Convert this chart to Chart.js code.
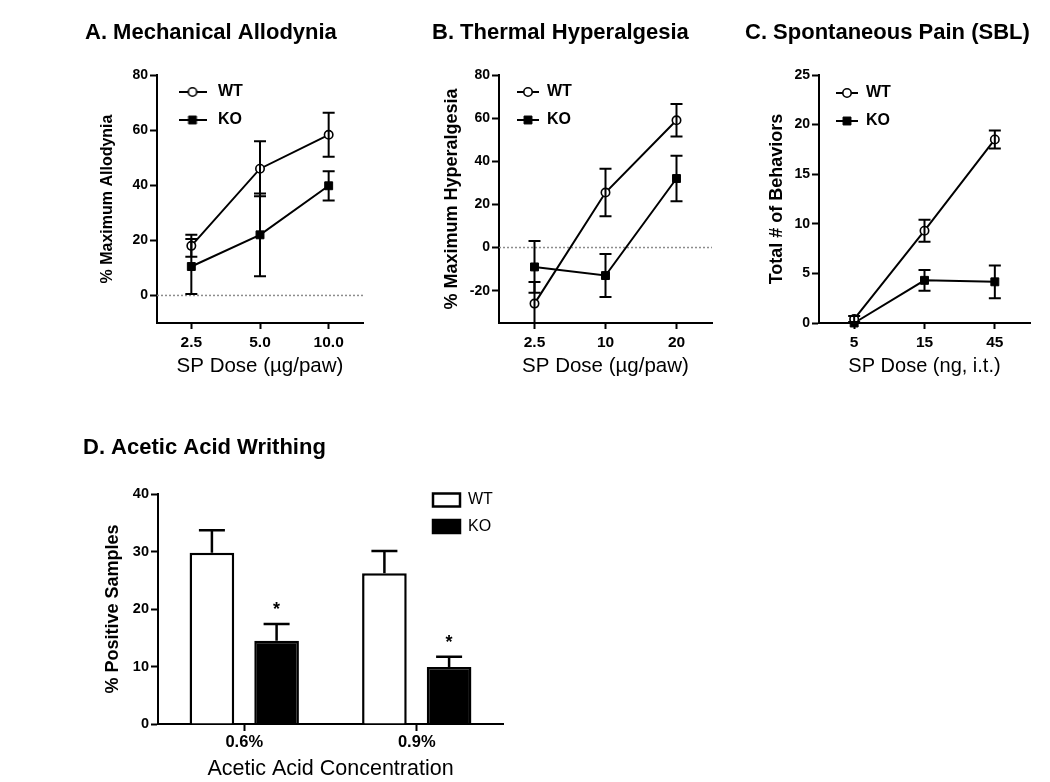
<!DOCTYPE html>
<html lang="en">
<head>
<meta charset="utf-8">
<title>SP dose response - WT vs KO</title>
<script src="https://cdn.jsdelivr.net/npm/chart.js@4.4.1/dist/chart.umd.min.js"></script>
<style>
  html, body { margin: 0; padding: 0; background: #fff; overflow: hidden; }
  body { position: relative; width: 1050px; height: 782px; }
  canvas { position: absolute; }
</style>
</head>
<body>
<canvas id="panelA" width="310" height="400" style="left:70px; top:0px;"></canvas>
<canvas id="panelB" width="300" height="400" style="left:420px; top:0px;"></canvas>
<canvas id="panelC" width="315" height="400" style="left:735px; top:0px;"></canvas>
<canvas id="panelD" width="470" height="372" style="left:70px; top:410px;"></canvas>
<script>
// A. Mechanical Allodynia
const doseA = ['2.5', '5.0', '10.0'];
const wtA = [18, 46, 58.3];
const wtErrA = [4, 10, 8];
const koA = [10.5, 22, 39.8];
const koErrA = [10, 15, 5.3];
const yTicksA = [0, 20, 40, 60, 80];

// B. Thermal Hyperalgesia
const doseB = ['2.5', '10', '20'];
const wtB = [-26, 25.5, 59];
const wtErrB = [10, 11, 7.5];
const koB = [-9, -13, 32];
const koErrB = [12, 10, 10.5];
const yTicksB = [-20, 0, 20, 40, 60, 80];

// C. Spontaneous Pain (SBL)
const doseC = ['5', '15', '45'];
const wtC = [0.4, 9.3, 18.5];
const wtErrC = [0.3, 1.1, 0.9];
const koC = [0, 4.3, 4.15];
const koErrC = [0, 1.05, 1.65];
const yTicksC = [0, 5, 10, 15, 20, 25];

// D. Acetic Acid Writhing
const concD = ['0.6%', '0.9%'];
const wtD = [29.8, 26.2];
const wtErrD = [3.9, 3.9];
const koD = [14.5, 9.9];
const koErrD = [2.9, 1.8];
const koSigD = ['*', '*'];
const yTicksD = [0, 10, 20, 30, 40];

Chart.defaults.font.family = "'Liberation Sans', Arial, Helvetica, sans-serif";
Chart.defaults.color = '#000';

// open circle for WT, filled square for KO
const wtStyle = {
  borderColor: '#000', borderWidth: 2, tension: 0, clip: false,
  pointStyle: 'circle', pointRadius: 4.2, pointBackgroundColor: '#fff',
  pointBorderColor: '#000', pointBorderWidth: 1.6
};
const koStyle = {
  borderColor: '#000', borderWidth: 2, tension: 0, clip: false,
  pointStyle: 'rect', pointRadius: 5.6, pointBackgroundColor: '#000',
  pointBorderColor: '#000', pointBorderWidth: 1
};

// dotted line at y = 0
const zeroLine = {
  id: 'zeroLine',
  beforeDatasetsDraw(chart, args, opts) {
    if (!opts.show) return;
    const {ctx, chartArea: a, scales: {y}} = chart;
    const py = y.getPixelForValue(0);
    ctx.save();
    ctx.strokeStyle = '#8c8c8c';
    ctx.lineWidth = 1.5;
    ctx.setLineDash([2, 2]);
    ctx.beginPath();
    ctx.moveTo(a.left, py);
    ctx.lineTo(a.right, py);
    ctx.stroke();
    ctx.restore();
  }
};

// SEM bars (and significance marks) from each dataset's errors array
const errorBars = {
  id: 'errorBars',
  afterDatasetsDraw(chart, args, opts) {
    const {ctx, chartArea: a, scales: {y}} = chart;
    const half = opts.cap / 2;
    chart.data.datasets.forEach((ds, di) => {
      if (!ds.errors) return;
      const meta = chart.getDatasetMeta(di);
      meta.data.forEach((el, i) => {
        const v = ds.data[i], e = ds.errors[i];
        const x = el.x;
        const top = y.getPixelForValue(v + e);
        if (e) {
          const bot = opts.upOnly ? y.getPixelForValue(v) : y.getPixelForValue(v - e);
          ctx.save();
          ctx.beginPath();
          ctx.rect(a.left, a.top - 2, a.right - a.left, a.bottom - a.top + 2);
          ctx.clip();
          ctx.strokeStyle = '#000';
          ctx.lineWidth = opts.width;
          ctx.beginPath();
          ctx.moveTo(x, top); ctx.lineTo(x, bot);
          ctx.moveTo(x - half, top); ctx.lineTo(x + half, top);
          if (!opts.upOnly) { ctx.moveTo(x - half, bot); ctx.lineTo(x + half, bot); }
          ctx.stroke();
          ctx.restore();
        }
        if (ds.marks && ds.marks[i]) {
          ctx.save();
          ctx.fillStyle = '#000';
          ctx.font = "bold 18px 'Liberation Sans', Arial, sans-serif";
          ctx.textAlign = 'center';
          ctx.textBaseline = 'middle';
          ctx.fillText(ds.marks[i], x, top - 14);
          ctx.restore();
        }
      });
    });
  }
};

// put the legend box at an offset from the chart area's top-left corner
const legendPlace = {
  id: 'legendPlace',
  afterLayout(chart, args, opts) {
    const lg = chart.legend, a = chart.chartArea;
    if (!lg || opts.x === undefined) return;
    lg.left = a.left + opts.x;
    lg.top = a.top + opts.y;
    lg.right = lg.left + lg.width;
    lg.bottom = lg.top + lg.height;
  }
};

function legendIcon(ds, w) {
  const c = document.createElement('canvas');
  c.width = w; c.height = 16;
  const g = c.getContext('2d');
  g.strokeStyle = ds.borderColor; g.lineWidth = ds.borderWidth;
  g.beginPath(); g.moveTo(0, 8); g.lineTo(w, 8); g.stroke();
  g.fillStyle = ds.pointBackgroundColor;
  g.strokeStyle = ds.pointBorderColor;
  g.lineWidth = ds.pointBorderWidth;
  g.beginPath();
  if (ds.pointStyle === 'circle') {
    g.arc(w / 2, 8, ds.pointRadius, 0, Math.PI * 2);
  } else {
    const h = ds.pointRadius * Math.SQRT1_2;
    g.rect(w / 2 - h, 8 - h, 2 * h, 2 * h);
  }
  g.fill(); g.stroke();
  return c;
}

function titleOpts(text, top, bottom) {
  return {display: true, text, align: 'start', color: '#000',
    font: {size: 22, weight: 'bold'}, padding: {top, bottom}};
}

function xAxis(title, o) {
  return {
    offset: true,
    grid: {display: true, drawOnChartArea: false, drawTicks: true, offset: false,
      tickLength: o.tickLen, tickWidth: 2, tickColor: '#000'},
    border: {display: true, color: '#000', width: 2},
    ticks: {color: '#000', font: {size: o.tickSize, weight: 'bold'}, padding: o.tickPad,
      maxRotation: 0, autoSkip: false},
    title: {display: true, text: title, color: '#000', font: {size: o.titleSize},
      padding: {top: 0, bottom: o.titlePad}},
    afterFit: s => { s.height = o.height; }
  };
}

function yAxis(title, ticks, o) {
  return {
    min: o.min, max: o.max,
    afterBuildTicks: s => { s.ticks = ticks.map(v => ({value: v})); },
    grid: {display: true, drawOnChartArea: false, drawTicks: true,
      tickLength: 7, tickWidth: 2, tickColor: '#000'},
    border: {display: true, color: '#000', width: 2},
    ticks: {color: '#000', font: {size: o.tickSize, weight: 'bold'}, padding: 2},
    title: {display: true, text: title, color: '#000', font: {size: o.titleSize, weight: 'bold'},
      padding: {top: o.titlePad, bottom: 0}},
    afterFit: s => { s.width = o.width; }
  };
}

function linePanel(id, cfg) {
  return new Chart(document.getElementById(id), {
    type: 'line',
    data: {
      labels: cfg.labels,
      datasets: [
        Object.assign({label: 'WT', data: cfg.wt, errors: cfg.wtErr}, wtStyle),
        Object.assign({label: 'KO', data: cfg.ko, errors: cfg.koErr}, koStyle)
      ]
    },
    options: {
      responsive: false,
      animation: false,
      events: [],
      layout: {padding: cfg.padding},
      plugins: {
        title: titleOpts(cfg.title, 19.8, 28.8),
        legend: {
          position: 'chartArea',
          align: 'start',
          labels: {
            usePointStyle: true,
            pointStyleWidth: cfg.legendBox,
            padding: 12,
            color: '#000',
            font: {size: 16, weight: 'bold'},
            generateLabels: chart => chart.data.datasets.map((ds, i) => ({
              text: ds.label, datasetIndex: i, hidden: false, fontColor: '#000',
              pointStyle: legendIcon(ds, cfg.iconWidth), lineWidth: 0,
              fillStyle: '#000', strokeStyle: '#000'
            }))
          }
        },
        tooltip: {enabled: false},
        legendPlace: cfg.legendAt,
        errorBars: {cap: 12, width: 2},
        zeroLine: {show: cfg.zero}
      },
      scales: {
        x: xAxis(cfg.xTitle, {tickLen: 6, tickSize: 15.5, tickPad: 4,
          titleSize: cfg.xTitleSize, titlePad: cfg.xTitlePad, height: 57}),
        y: yAxis(cfg.yTitle, cfg.yTicks, {min: cfg.min, max: cfg.max, tickSize: 14,
          titleSize: cfg.yTitleSize, titlePad: cfg.yTitlePad, width: cfg.yWidth})
      }
    },
    plugins: [legendPlace, zeroLine, errorBars]
  });
}

linePanel('panelA', {
  title: 'A. Mechanical Allodynia',
  labels: doseA, wt: wtA, wtErr: wtErrA, ko: koA, koErr: koErrA, yTicks: yTicksA,
  min: -10, max: 80, zero: true,
  padding: {left: 15, right: 17, top: 0, bottom: 20},
  yWidth: 72, yTitle: '% Maximum Allodynia', yTitleSize: 16, yTitlePad: 13.4,
  xTitle: 'SP Dose (\u00b5g/paw)', xTitleSize: 20.5, xTitlePad: 1.7,
  legendBox: 35, iconWidth: 28, legendAt: {x: 6, y: -3}
});

linePanel('panelB', {
  title: 'B. Thermal Hyperalgesia',
  labels: doseB, wt: wtB, wtErr: wtErrB, ko: koB, koErr: koErrB, yTicks: yTicksB,
  min: -35, max: 80, zero: true,
  padding: {left: 12, right: 8, top: 0, bottom: 20},
  yWidth: 67, yTitle: '% Maximum Hyperalgesia', yTitleSize: 18, yTitlePad: 9.7,
  xTitle: 'SP Dose (\u00b5g/paw)', xTitleSize: 20.5, xTitlePad: 1.7,
  legendBox: 22, iconWidth: 22, legendAt: {x: 6, y: -3}
});

linePanel('panelC', {
  title: 'C. Spontaneous Pain (SBL)',
  labels: doseC, wt: wtC, wtErr: wtErrC, ko: koC, koErr: koErrC, yTicks: yTicksC,
  min: 0, max: 25, zero: false,
  padding: {left: 10, right: 20, top: 0, bottom: 20},
  yWidth: 74, yTitle: 'Total # of Behaviors', yTitleSize: 18, yTitlePad: 21.7,
  xTitle: 'SP Dose (ng, i.t.)', xTitleSize: 20, xTitlePad: 2,
  legendBox: 22, iconWidth: 22, legendAt: {x: 5, y: -2}
});

// D: bar chart, SEM shown above the bars only
new Chart(document.getElementById('panelD'), {
  type: 'bar',
  data: {
    labels: concD,
    datasets: [
      {label: 'WT', data: wtD, errors: wtErrD, backgroundColor: '#fff',
        borderColor: '#000', borderWidth: 2.5},
      {label: 'KO', data: koD, errors: koErrD, marks: koSigD, backgroundColor: '#000',
        borderColor: '#000', borderWidth: 2.5}
    ]
  },
  options: {
    responsive: false,
    animation: false,
    events: [],
    categoryPercentage: 0.75,
    barPercentage: 0.69,
    layout: {padding: {left: 13, right: 37, top: 0, bottom: 0}},
    plugins: {
      title: titleOpts('D. Acetic Acid Writhing', 24.8, 32.8),
      legend: {
        position: 'chartArea',
        align: 'start',
        labels: {boxWidth: 27, boxHeight: 13, padding: 10.5, color: '#000',
          font: {size: 16}}
      },
      tooltip: {enabled: false},
      legendPlace: {x: 264.5, y: -12.5},
      errorBars: {cap: 26, width: 2.5, upOnly: true},
      zeroLine: {show: false}
    },
    scales: {
      x: xAxis('Acetic Acid Concentration', {tickLen: 7, tickSize: 16.5, tickPad: 2,
        titleSize: 21.5, titlePad: 0, height: 58}),
      y: yAxis('% Positive Samples', yTicksD, {min: 0, max: 40, tickSize: 14.5,
        titleSize: 18, titlePad: 19.2, width: 75})
    }
  },
  plugins: [legendPlace, zeroLine, errorBars]
});
</script>
</body>
</html>
